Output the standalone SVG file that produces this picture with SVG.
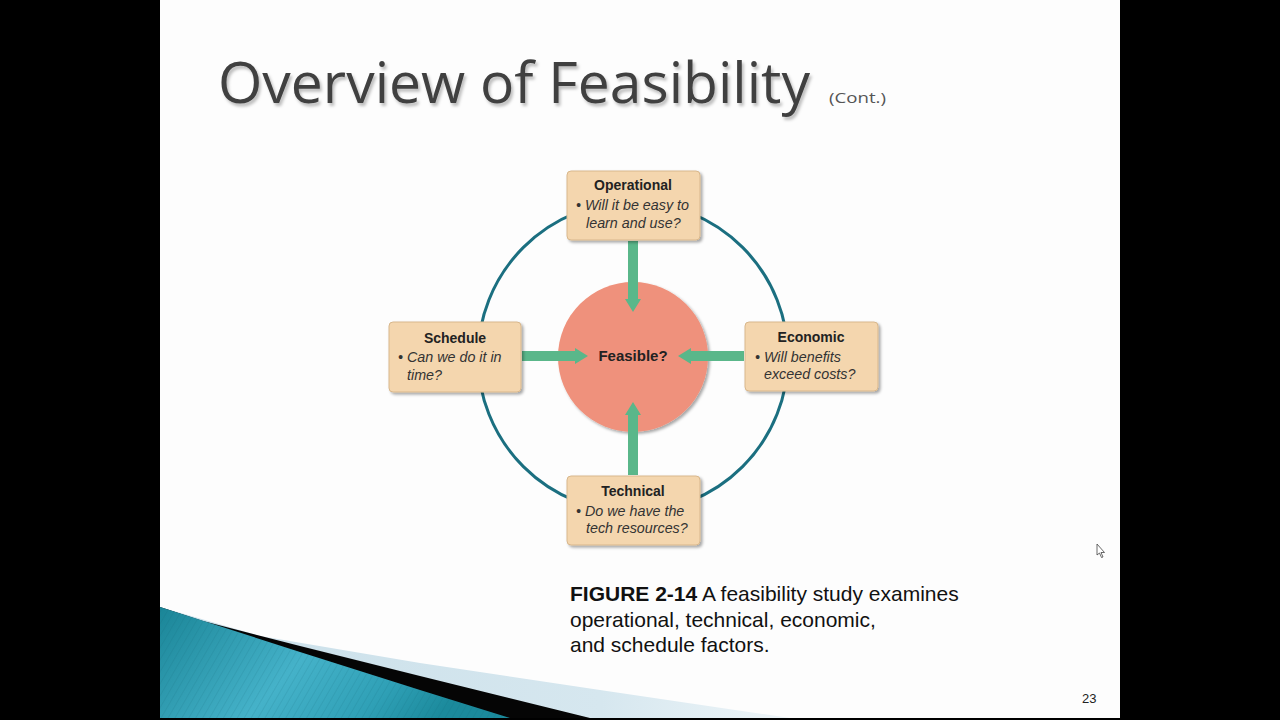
<svg xmlns="http://www.w3.org/2000/svg" width="1280" height="720" viewBox="0 0 1280 720">
<defs>
<style>
.nodebox{fill:#f4d6ae;stroke:#d8b78c;stroke-width:1;filter:url(#shadow)}
.ntitle{font-family:"Liberation Sans",Arial,sans-serif;font-weight:bold;font-size:14px;fill:#222;text-anchor:middle}
.nbody{font-family:"Liberation Sans",Arial,sans-serif;font-style:italic;font-size:14.3px;fill:#333}
.arrow{fill:#5ab78a}
.cap{font-family:"Liberation Sans",Arial,sans-serif;font-size:21px;fill:#111}
</style>
<filter id="shadow" x="-20%" y="-20%" width="150%" height="150%">
<feDropShadow dx="2" dy="2" stdDeviation="1.5" flood-color="#000" flood-opacity="0.35"/>
</filter>
<filter id="tshadow" x="-5%" y="-20%" width="110%" height="150%">
<feDropShadow dx="2" dy="3" stdDeviation="1.5" flood-color="#000" flood-opacity="0.25"/>
</filter>
<linearGradient id="teal" x1="0" y1="0" x2="1" y2="0.3">
<stop offset="0" stop-color="#1a8597"/>
<stop offset="0.5" stop-color="#45b2c9"/>
<stop offset="0.8" stop-color="#2fa0b6"/>
<stop offset="1" stop-color="#1b8a9c"/>
</linearGradient>
<linearGradient id="lblue" x1="0" y1="0" x2="1" y2="0">
<stop offset="0" stop-color="#c9dfe9"/>
<stop offset="0.7" stop-color="#d6e7ef"/>
<stop offset="1" stop-color="#eef5f8"/>
</linearGradient>
<pattern id="stripes" width="6" height="6" patternUnits="userSpaceOnUse" patternTransform="rotate(30)">
<line x1="0" y1="0" x2="0" y2="6" stroke="#0f5f70" stroke-width="1" stroke-opacity="0.25"/>
</pattern>
</defs>

<rect x="0" y="0" width="1280" height="720" fill="#000"/>
<rect x="160" y="0" width="960" height="718" fill="#fdfdfd"/>

<g id="decoration">
<polygon points="160,607 260,636 420,663 600,690 790,718 160,718" fill="url(#lblue)"/>
<polygon points="160,607 203,621 300,646 420,676 590,718 160,718" fill="#050505"/>
<polygon points="160,607 300,652 420,690 510,718 160,718" fill="url(#teal)"/>
<polygon points="160,607 300,652 420,690 510,718 160,718" fill="url(#stripes)"/>
</g>

<g id="title">
<text x="218" y="103" font-family="'Open Sans','DejaVu Sans',sans-serif" font-size="57" fill="#404040" textLength="592" lengthAdjust="spacingAndGlyphs" filter="url(#tshadow)">Overview of Feasibility</text>
<text x="829" y="103" font-family="'Open Sans','DejaVu Sans',sans-serif" font-size="15" fill="#555" textLength="57" lengthAdjust="spacingAndGlyphs">(Cont.)</text>
</g>

<g id="ring">
<circle cx="633" cy="357" r="155" fill="none" stroke="#1b6f80" stroke-width="3"/>
</g>

<g id="feasible">
<circle cx="633" cy="357" r="75" fill="#ef917b" filter="url(#shadow)"/>
<text x="633" y="361" font-family="'Liberation Sans',Arial,sans-serif" font-weight="bold" font-size="15" fill="#222" text-anchor="middle">Feasible?</text>
</g>

<g id="connectors">
<polygon class="arrow" points="628,241 638,241 638,299 641,299 633,312 625,299 628,299"/>
<polygon class="arrow" points="628,475 638,475 638,415 641,415 633,402 625,415 628,415"/>
<polygon class="arrow" points="522,351 522,361 575,361 575,364 588,356 575,348 575,351"/>
<polygon class="arrow" points="744,351 744,361 691,361 691,364 678,356 691,348 691,351"/>
</g>

<g id="operational">
<rect class="nodebox" x="567" y="171" width="133" height="69" rx="4"/>
<text class="ntitle" x="633" y="190">Operational</text>
<text class="nbody" x="576" y="210">• Will it be easy to</text>
<text class="nbody" x="586" y="228">learn and use?</text>
</g>

<g id="schedule">
<rect class="nodebox" x="389" y="322" width="132" height="70" rx="4"/>
<text class="ntitle" x="455" y="343">Schedule</text>
<text class="nbody" x="398" y="362">• Can we do it in</text>
<text class="nbody" x="407" y="380">time?</text>
</g>

<g id="economic">
<rect class="nodebox" x="745" y="322" width="133" height="69" rx="4"/>
<text class="ntitle" x="811" y="342">Economic</text>
<text class="nbody" x="755" y="362">• Will benefits</text>
<text class="nbody" x="764" y="379">exceed costs?</text>
</g>

<g id="technical">
<rect class="nodebox" x="567" y="476" width="133" height="69" rx="4"/>
<text class="ntitle" x="633" y="496">Technical</text>
<text class="nbody" x="576" y="516">• Do we have the</text>
<text class="nbody" x="586" y="533">tech resources?</text>
</g>

<g id="caption">
<text class="cap" x="570" y="601"><tspan font-weight="bold">FIGURE 2-14</tspan> A feasibility study examines</text>
<text class="cap" x="570" y="627">operational, technical, economic,</text>
<text class="cap" x="570" y="652">and schedule factors.</text>
</g>

<text x="1082" y="703" font-family="'Liberation Sans',Arial,sans-serif" font-size="13" fill="#222">23</text>

<g id="cursor">
<polygon points="1097,544 1097,555 1099.5,553 1101.5,557.5 1103,557 1101,552.5 1104.5,552.5" fill="#fff" stroke="#444" stroke-width="0.8"/>
</g>
</svg>
